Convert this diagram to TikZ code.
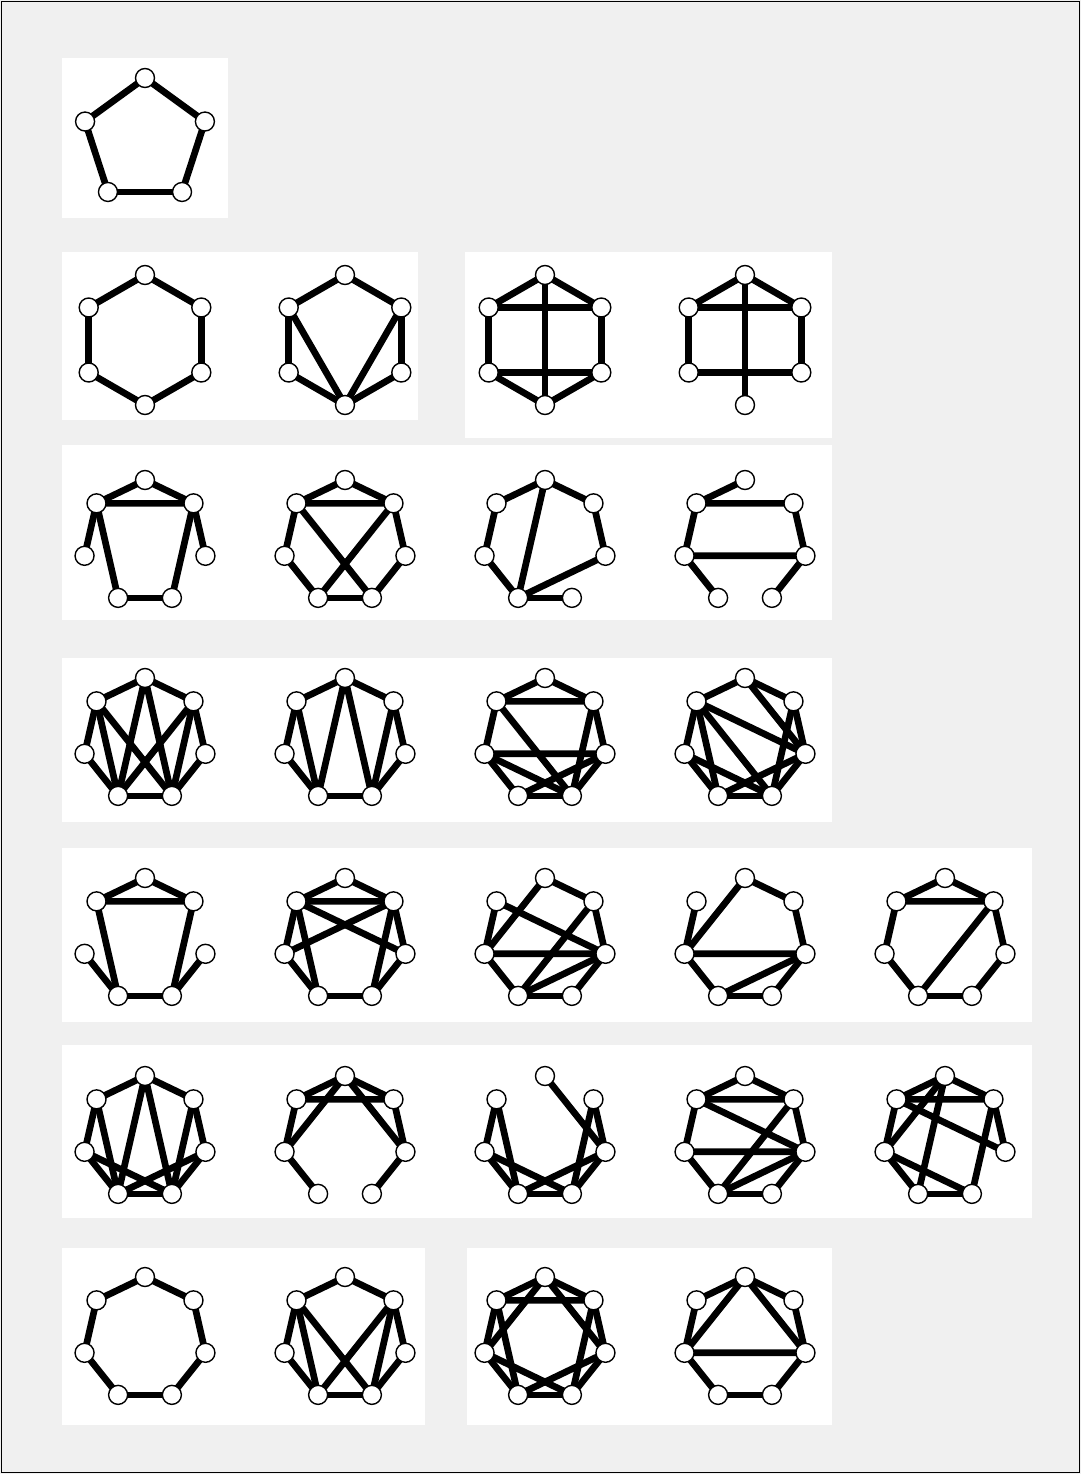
\documentclass[tikz,border=0pt]{standalone}
\usepackage{tikz}
\pgfdeclarelayer{paper}
\pgfdeclarelayer{lines}
\pgfsetlayers{paper,lines,main}
% ring of n vertices named #1<k>, k = 0 at the top, clockwise
\newcommand{\ring}[5]{%
  \pgfmathtruncatemacro{\lastk}{#2-1}
  \foreach \k in {0,...,\lastk} {
    \pgfmathsetmacro{\ang}{90-\k*360/#2}
    \node[vtx] (#1\k) at ({#3+#5*cos(\ang)},{#4-#5*sin(\ang)}) {};
  }}
\newcommand{\hept}[3]{\ring{#1}{7}{#2}{#3}{62}}
% edges of graph #1, list of u/v pairs
\newcommand{\links}[2]{%
  \edef\edgelist{#2}
  \begin{pgfonlayer}{lines}
    \foreach \u/\v in \edgelist \draw[edge] (#1\u.center) -- (#1\v.center);
  \end{pgfonlayer}}
\newcommand{\cyc}{0/1,1/2,2/3,3/4,4/5,5/6,6/0}

\begin{document}
\begin{tikzpicture}[
  x=0.02cm, y=-0.02cm,
  vtx/.style={circle, draw, fill=white, line width=0.8pt, minimum size=0.38cm, inner sep=0pt},
  edge/.style={line width=3.8pt},
]
\useasboundingbox (0,0) rectangle (1081,1474);
% scanned page
\begin{pgfonlayer}{paper}
\fill[black!6] (0,0) rectangle (1081,1474);
\fill[white] (62,58) rectangle (228,218);
\fill[white] (62,252) rectangle (418,420);
\fill[white] (465,252) rectangle (832,438);
\fill[white] (62,445) rectangle (832,620);
\fill[white] (62,658) rectangle (832,822);
\fill[white] (62,848) rectangle (1032,1022);
\fill[white] (62,1045) rectangle (1032,1218);
\fill[white] (62,1248) rectangle (425,1425);
\fill[white] (467,1248) rectangle (832,1425);
\draw[line width=0.8pt] (1.5,1.5) rectangle (1079.5,1472.5);
\end{pgfonlayer}
% row 1
\ring{pa}{5}{145}{141}{63}
\links{pa}{0/1,1/2,2/3,3/4,4/0}
% row 2
\ring{ha}{6}{145}{340}{65}
\links{ha}{0/1,1/2,2/3,3/4,4/5,5/0}
\ring{hb}{6}{345}{340}{65}
\links{hb}{0/1,1/2,2/3,3/4,4/5,5/0,5/3,1/3}
\ring{hc}{6}{545}{340}{65}
\links{hc}{0/1,1/2,2/3,3/4,4/5,5/0,5/1,4/2,0/3}
\ring{hd}{6}{745}{340}{65}
\links{hd}{0/5,0/1,5/1,5/4,1/2,4/2,0/3}
% row 3
\hept{ca}{145}{542}
\links{ca}{0/6,0/1,6/1,6/5,1/2,6/4,1/3,4/3}
\hept{cb}{345}{542}
\links{cb}{\cyc,6/1,6/3,1/4}
\hept{cc}{545}{542}
\links{cc}{0/6,0/1,6/5,1/2,5/4,2/4,0/4,4/3}
\hept{cd}{745}{542}
\links{cd}{0/6,6/1,6/5,1/2,5/2,5/4,2/3}
% row 4
\hept{da}{145}{740}
\links{da}{\cyc,6/4,6/3,0/4,0/3,1/4,1/3}
\hept{db}{345}{740}
\links{db}{\cyc,6/4,0/4,0/3,1/3}
\hept{dc}{545}{740}
\links{dc}{0/6,0/1,6/1,6/5,1/2,1/3,5/2,5/4,5/3,2/4,2/3,4/3,6/3}
\hept{dd}{745}{740}
\links{dd}{0/6,0/1,0/2,6/5,6/4,6/3,6/2,1/2,1/3,5/4,5/3,2/4,2/3,4/3}
% row 5
\hept{ea}{145}{940}
\links{ea}{0/6,0/1,6/1,6/4,1/3,4/3,5/4,2/3}
\hept{eb}{345}{940}
\links{eb}{0/6,0/1,6/1,6/2,1/5,6/5,6/4,1/2,1/3,5/4,2/3,4/3}
\hept{ec}{545}{940}
\links{ec}{0/1,0/5,6/5,6/2,1/2,5/2,5/4,4/3,3/2,4/2,4/1}
\hept{ed}{745}{940}
\links{ed}{0/1,0/5,6/5,1/2,5/2,5/4,4/2,2/3,4/3}
\hept{ee}{945}{940}
\links{ee}{\cyc,6/1,1/4}
% row 6
\hept{fa}{145}{1138}
\links{fa}{\cyc,6/4,1/3,0/4,0/3,5/3,2/4}
\hept{fb}{345}{1138}
\links{fb}{0/6,0/1,6/1,0/5,0/2,6/5,1/2,5/4,2/3}
\hept{fc}{545}{1138}
\links{fc}{6/5,6/4,1/2,1/3,5/4,5/3,2/4,2/3,4/3,0/2}
\hept{fd}{745}{1138}
\links{fd}{\cyc,6/1,6/2,1/4,5/2,4/2}
\hept{fe}{945}{1138}
\links{fe}{0/6,0/1,6/1,0/5,0/4,6/2,6/5,1/3,1/2,5/4,5/3,4/3}
% row 7
\hept{ga}{145}{1339}
\links{ga}{\cyc}
\hept{gb}{345}{1339}
\links{gb}{\cyc,6/4,6/3,1/4,1/3}
\hept{gc}{545}{1339}
\links{gc}{\cyc,6/1,0/5,0/2,6/4,1/3,5/3,2/4}
\hept{gd}{745}{1339}
\links{gd}{\cyc,0/5,0/2,5/2}
\end{tikzpicture}
\end{document}
